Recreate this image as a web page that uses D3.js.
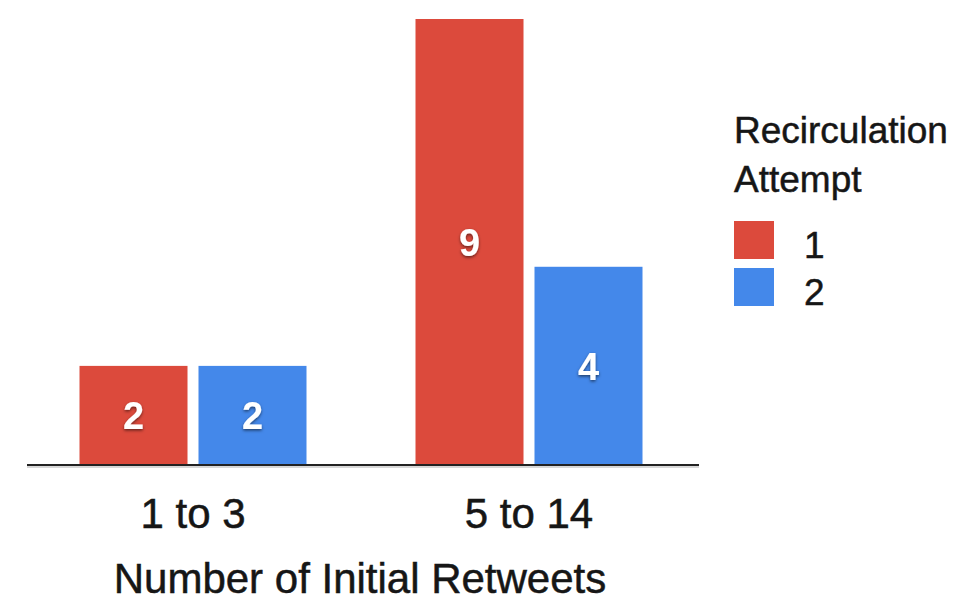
<!DOCTYPE html>
<html>
<head>
<meta charset="utf-8">
<script src="https://cdn.jsdelivr.net/npm/d3@7"></script>
<style>
  html, body { margin: 0; padding: 0; background: #ffffff; }
  svg { display: block; }
  text { font-family: "Liberation Sans", Arial, Helvetica, sans-serif; }
  .dark { fill: #161616; stroke: #161616; stroke-width: 0.5px; }
</style>
</head>
<body>
<svg id="chart" width="971" height="602"></svg>
<script>
// Retweet buckets on the x axis
const categories = ["1 to 3", "5 to 14"];
// Recirculation attempts (legend series)
const seriesNames = ["1", "2"];
// Counts per bucket for each attempt
const attempt1 = [2, 9];
const attempt2 = [2, 4];
const seriesValues = [attempt1, attempt2];
const colors = ["#dc4a3c", "#4488ea"];
const xAxisTitle = "Number of Initial Retweets";
const legendTitle = ["Recirculation", "Attempt"];

const svg = d3.select("#chart");

const baseline = 465;
const x0 = d3.scaleBand().domain(categories).range([25, 697]).padding(0);
const groupWidth = 227;
const x1 = d3.scaleBand().domain(seriesNames).range([0, groupWidth]).paddingInner(0.0924);
const y = d3.scaleLinear().domain([0, 9]).range([baseline, 19]);
const color = d3.scaleOrdinal().domain(seriesNames).range(colors);

// soft shadow behind the white value labels
const defs = svg.append("defs");
const f = defs.append("filter").attr("id", "labelShadow")
  .attr("x", "-50%").attr("y", "-50%").attr("width", "200%").attr("height", "200%");
f.append("feDropShadow").attr("dx", 0).attr("dy", 1.5).attr("stdDeviation", 1.5)
  .attr("flood-color", "#000").attr("flood-opacity", 0.55);

// flatten rows
const rows = [];
categories.forEach((c, i) => {
  seriesNames.forEach((s, j) => {
    rows.push({ cat: c, series: s, value: seriesValues[j][i] });
  });
});

const groupX = c => x0(c) + (x0.bandwidth() - groupWidth) / 2;

const bars = svg.append("g").attr("class", "bars");
bars.selectAll("rect").data(rows).join("rect")
  .attr("x", d => groupX(d.cat) + x1(d.series))
  .attr("y", d => y(d.value))
  .attr("width", x1.bandwidth())
  .attr("height", d => baseline - y(d.value))
  .attr("fill", d => color(d.series));

bars.selectAll("text").data(rows).join("text")
  .attr("x", d => groupX(d.cat) + x1(d.series) + x1.bandwidth() / 2)
  .attr("y", d => (y(d.value) + baseline) / 2)
  .attr("dy", "0.36em")
  .attr("text-anchor", "middle")
  .attr("fill", "#ffffff")
  .attr("font-weight", "bold")
  .attr("font-size", 38)
  .attr("filter", "url(#labelShadow)")
  .text(d => d.value);

// baseline axis
svg.append("line")
  .attr("x1", 27).attr("x2", 699)
  .attr("y1", baseline + 2).attr("y2", baseline + 2)
  .attr("stroke", "#d8d8d8").attr("stroke-width", 2);
const xAxis = d3.axisBottom(x0).tickSize(0).tickPadding(0);
const gx = svg.append("g").attr("transform", `translate(0,${baseline})`).call(xAxis);
gx.attr("font-family", null).attr("font-size", null);
gx.select(".domain").attr("d", "M27,0H699").attr("stroke", "#222").attr("stroke-width", 2);
gx.selectAll(".tick text")
  .attr("class", "dark")
  .attr("font-size", 42)
  .attr("dy", null)
  .attr("y", 63);

svg.append("text")
  .attr("class", "dark")
  .attr("x", 360).attr("y", 593)
  .attr("text-anchor", "middle")
  .attr("font-size", 42)
  .text(xAxisTitle);

// legend
const lg = svg.append("g").attr("class", "legend");
lg.selectAll("text.title").data(legendTitle).join("text")
  .attr("class", "title dark")
  .attr("x", 734)
  .attr("y", (d, i) => 143 + i * 49)
  .attr("font-size", 37)
  .text(d => d);

const items = lg.selectAll("g.item").data(seriesNames).join("g")
  .attr("class", "item")
  .attr("transform", (d, i) => `translate(734,${221 + i * 47})`);
items.append("rect")
  .attr("width", 40).attr("height", 38)
  .attr("fill", d => color(d));
items.append("text")
  .attr("class", "dark")
  .attr("x", 70).attr("y", 37)
  .attr("font-size", 37)
  .text(d => d);
</script>
</body>
</html>
